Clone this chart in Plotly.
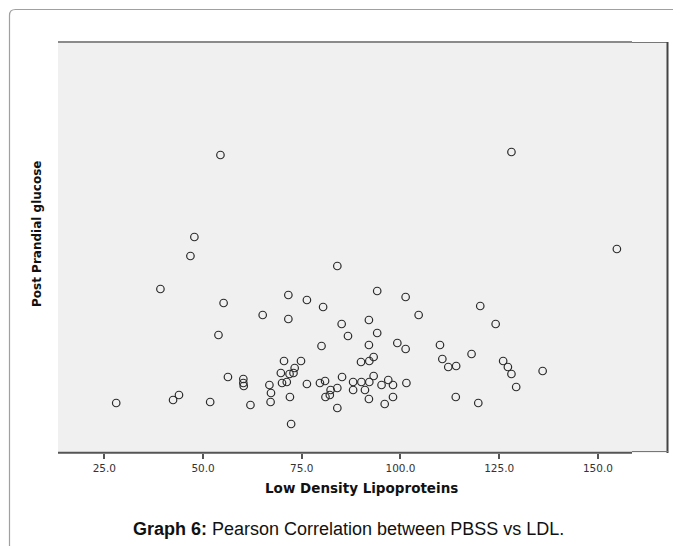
import plotly.graph_objects as go

# Low Density Lipoproteins (x) and Post Prandial glucose (y, values estimated; axis unlabeled)
ldl = [28.0, 39.2, 42.4, 43.9, 46.8, 47.8, 51.8, 53.9, 54.4, 55.2,
       56.3, 60.2, 60.2, 60.3, 62.0, 65.1, 66.8, 67.2, 67.1, 69.7,
       70.0, 70.5, 71.2, 71.6, 71.6, 71.9, 72.0, 72.3, 72.9, 73.2,
       74.8, 76.3, 76.3, 79.6, 80.0, 80.4, 80.9, 81.0, 82.1, 82.3,
       84.0, 84.0, 84.0, 85.1, 85.2, 86.7, 88.0, 88.0, 90.1, 90.0,
       91.0, 92.0, 92.0, 92.1, 92.1, 92.0, 93.2, 93.2, 94.1, 94.1,
       95.2, 96.0, 96.9, 98.1, 98.1, 99.2, 101.3, 101.3, 101.5, 104.6,
       110.0, 110.6, 112.1, 114.1, 114.0, 118.0, 119.7, 120.2, 124.1, 126.0,
       127.2, 128.1, 128.1, 129.3, 136.0, 154.8]
ppbs = [110, 224, 113, 118, 257, 276, 111, 178, 358, 210,
        136, 134, 130, 127, 108, 198, 128, 120, 111, 140,
        130, 152, 131, 218, 194, 139, 116, 89, 140, 145,
        152, 213, 129, 130, 167, 206, 132, 116, 118, 123,
        247, 125, 105, 189, 136, 177, 131, 123, 131, 151,
        123, 193, 168, 131, 152, 114, 156, 137, 222, 180,
        128, 109, 133, 128, 116, 170, 216, 164, 130, 198,
        168, 154, 146, 147, 116, 159, 110, 207, 189, 152,
        146, 139, 361, 126, 142, 264]

x_ticks = [25, 50, 75, 100, 125, 150]
x_tick_labels = ["25.0", "50.0", "75.0", "100.0", "125.0", "150.0"]

x_title = "Low Density Lipoproteins"
y_title = "Post Prandial glucose"
caption = "<b>Graph 6:</b> Pearson Correlation between PBSS vs LDL."

# the page body has an 8px margin; work in window pixels and shift
OFF = 8
W, H = 681 - OFF, 546 - OFF
L, R, T, B = 58, 668, 42, 453   # plot area in window pixels


def px(x):
    return (x - L) / (R - L)


def py(y):
    return (B - y) / (B - T)


fig = go.Figure()
fig.add_trace(go.Scatter(
    x=ldl, y=ppbs, mode="markers",
    marker=dict(symbol="circle-open", size=7.5, color="#2a2a2a",
                line=dict(width=1.2, color="#2a2a2a")),
    hoverinfo="x+y", showlegend=False,
))

shapes = []
r = 6
path = (f"M {px(9.5)},{py(560)} L {px(9.5)},{py(9.5 + r)} "
        f"Q {px(9.5)},{py(9.5)} {px(9.5 + r)},{py(9.5)} L {px(700)},{py(9.5)}")
shapes.append(dict(type="path", xref="paper", yref="paper", path=path,
                   line=dict(color="#a0a0a0", width=1.2)))
shapes.append(dict(type="line", xref="paper", yref="paper",
                   x0=px(L), x1=px(632), y0=py(42), y1=py(42),
                   line=dict(color="#8a8a8a", width=2)))
shapes.append(dict(type="line", xref="paper", yref="paper",
                   x0=px(632), x1=px(R), y0=py(42.5), y1=py(42.5),
                   line=dict(color="#777777", width=1)))
shapes.append(dict(type="line", xref="paper", yref="paper",
                   x0=px(667.5), x1=px(667.5), y0=py(42), y1=py(453),
                   line=dict(color="#444444", width=2)))
shapes.append(dict(type="line", xref="paper", yref="paper",
                   x0=px(L), x1=px(632), y0=py(452.7), y1=py(452.7),
                   line=dict(color="#555555", width=2)))
shapes.append(dict(type="line", xref="paper", yref="paper",
                   x0=px(632), x1=px(R), y0=py(451.5), y1=py(451.5),
                   line=dict(color="#777777", width=1)))

annotations = [
    dict(text=f"<b>{x_title}</b>", xref="paper", yref="paper",
         x=px(361), y=py(488), showarrow=False,
         font=dict(family="DejaVu Sans", size=13.5, color="#111111"),
         xanchor="center", yanchor="middle"),
    dict(text=f"<b>{y_title}</b>", xref="paper", yref="paper",
         x=px(37), y=py(234), showarrow=False, textangle=-90,
         font=dict(family="DejaVu Sans", size=12, color="#111111"),
         xanchor="center", yanchor="middle"),
    dict(text=caption, xref="paper", yref="paper",
         x=px(348), y=py(529), showarrow=False,
         font=dict(family="Liberation Sans", size=18, color="#111111"),
         xanchor="center", yanchor="middle"),
]

fig.update_layout(
    width=W, height=H,
    margin=dict(l=L - OFF, r=W - (R - OFF), t=T - OFF, b=H - (B - OFF), pad=0),
    paper_bgcolor="white",
    plot_bgcolor="#f0f0f0",
    shapes=shapes,
    annotations=annotations,
    xaxis=dict(range=[13.26, 167.75], tickmode="array", tickvals=x_ticks,
               ticktext=x_tick_labels, showgrid=False, zeroline=False,
               showline=False, ticks="outside", ticklen=5, tickwidth=1.5,
               tickcolor="#555555",
               tickfont=dict(family="DejaVu Sans", size=10.5, color="#333333")),
    yaxis=dict(range=[60, 471], showgrid=False, zeroline=False,
               showline=False, showticklabels=False, ticks=""),
)

fig.write_html("out.html", config={"displayModeBar": False})
